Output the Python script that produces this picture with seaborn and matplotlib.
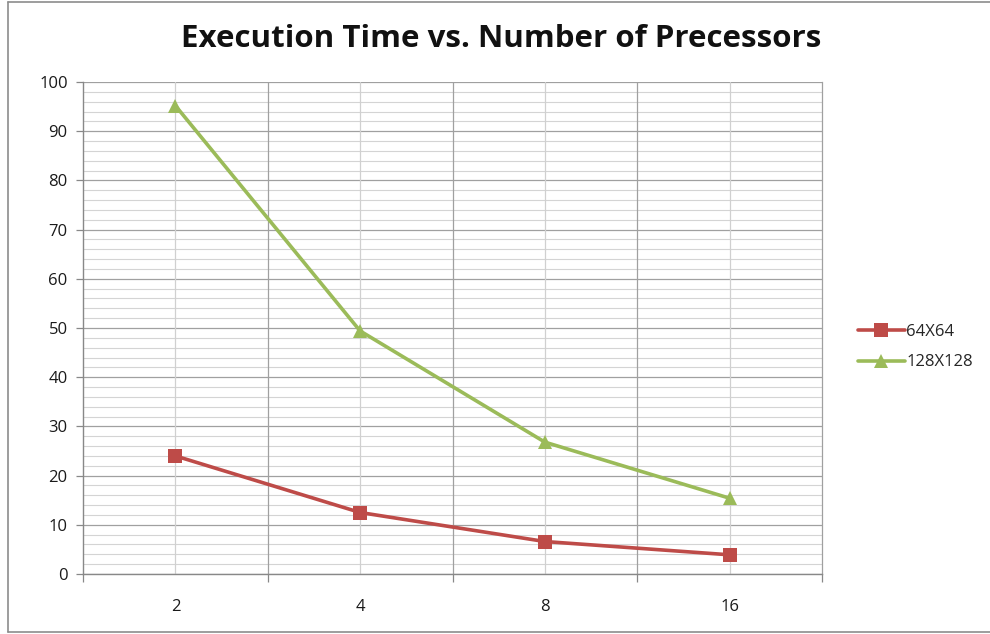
import matplotlib
matplotlib.use("Agg")
import matplotlib.pyplot as plt
from matplotlib.lines import Line2D
from matplotlib.ticker import MultipleLocator, FixedLocator
import numpy as np
import pandas as pd
import seaborn as sns

# Processor counts (categorical axis) and execution times per grid size
processors = ["2", "4", "8", "16"]
time_64 = [24.0, 12.5, 6.6, 3.9]
time_128 = [95.2, 49.4, 26.8, 15.4]
series_names = ["64X64", "128X128"]

sns.set_theme(style="white")
plt.rcParams["font.family"] = ["Open Sans", "DejaVu Sans"]

pos = np.arange(len(processors))
df = pd.DataFrame({
    "pos": np.concatenate([pos, pos]),
    "time": time_64 + time_128,
    "series": [series_names[0]] * len(pos) + [series_names[1]] * len(pos),
})

colors = {"64X64": "#BE4B48", "128X128": "#9BBB59"}
markers = {"64X64": "s", "128X128": "^"}

fig = plt.figure(figsize=(9.9, 6.34), dpi=100)
ax = fig.add_axes([83 / 990, 1 - 574 / 634, (822 - 83) / 990, (574 - 82) / 634])

sns.lineplot(data=df, x="pos", y="time", hue="series", style="series",
             palette=colors, markers=markers, dashes=False, markersize=10,
             linewidth=2.6, markeredgewidth=0, ax=ax, legend=False, zorder=3)

ax.set_xlim(-0.5, len(processors) - 0.5)
ax.set_ylim(0, 100)

# y axis: major every 10, minor every 2
ax.yaxis.set_major_locator(MultipleLocator(10))
ax.yaxis.set_minor_locator(MultipleLocator(2))
ax.grid(which="major", axis="y", color="#a0a0a0", linewidth=0.9, zorder=0)
ax.grid(which="minor", axis="y", color="#d4d4d4", linewidth=0.8, zorder=0)

# x axis: labels at category centres, ticks/major grid at boundaries
ax.set_xticks(pos)
ax.set_xticklabels(processors)
ax.xaxis.set_minor_locator(FixedLocator(np.arange(-0.5, len(processors), 1.0)))
for b in np.arange(0.5, len(processors) - 0.5, 1.0):
    ax.axvline(b, color="#a0a0a0", linewidth=0.9, zorder=1)
for c in pos:
    ax.axvline(c, color="#d0d0d0", linewidth=0.9, zorder=1)

ax.tick_params(axis="x", which="major", length=0, pad=18, labelsize=12, colors="#1a1a1a")
ax.tick_params(axis="x", which="minor", length=6, width=0.9, color="#888888", direction="out", bottom=True)
ax.tick_params(axis="y", which="major", length=5, width=0.9, color="#888888", direction="out",
               left=True, labelsize=12, colors="#1a1a1a", pad=6)
ax.tick_params(axis="y", which="minor", length=0)

for side in ["left", "bottom"]:
    ax.spines[side].set_color("#888888")
    ax.spines[side].set_linewidth(1.0)
ax.spines["right"].set_color("#a0a0a0")
ax.spines["right"].set_linewidth(0.9)
ax.spines["top"].set_visible(False)
ax.set_xlabel("")
ax.set_ylabel("")

fig.text(0.506, 1 - 39 / 634, "Execution Time vs. Number of Precessors",
         ha="center", va="center", fontsize=22.5, fontweight="bold", color="#111111")

# Legend on the right
handles = [plt.Line2D([], [], color=colors[s], marker=markers[s], markersize=10,
                      markeredgewidth=0, linewidth=2.6) for s in series_names]
fig.legend(handles, series_names, loc="center left",
           bbox_to_anchor=(843 / 990, 1 - 347 / 634), frameon=False,
           fontsize=12, handlelength=2.8, labelspacing=0.9, handletextpad=0.1)

# Chart area border: left, top and bottom edges
x0, x1 = 8 / 990, 1.0
y0, y1 = 1 - 632 / 634, 1 - 2 / 634
for xs, ys in [([x0, x0], [y0, y1]), ([x0, x1], [y1, y1]), ([x0, x1], [y0, y0])]:
    fig.lines.append(Line2D(xs, ys, transform=fig.transFigure,
                            color="#8c8c8c", linewidth=1.2))

fig.savefig("out.png", dpi=100, facecolor="white")
